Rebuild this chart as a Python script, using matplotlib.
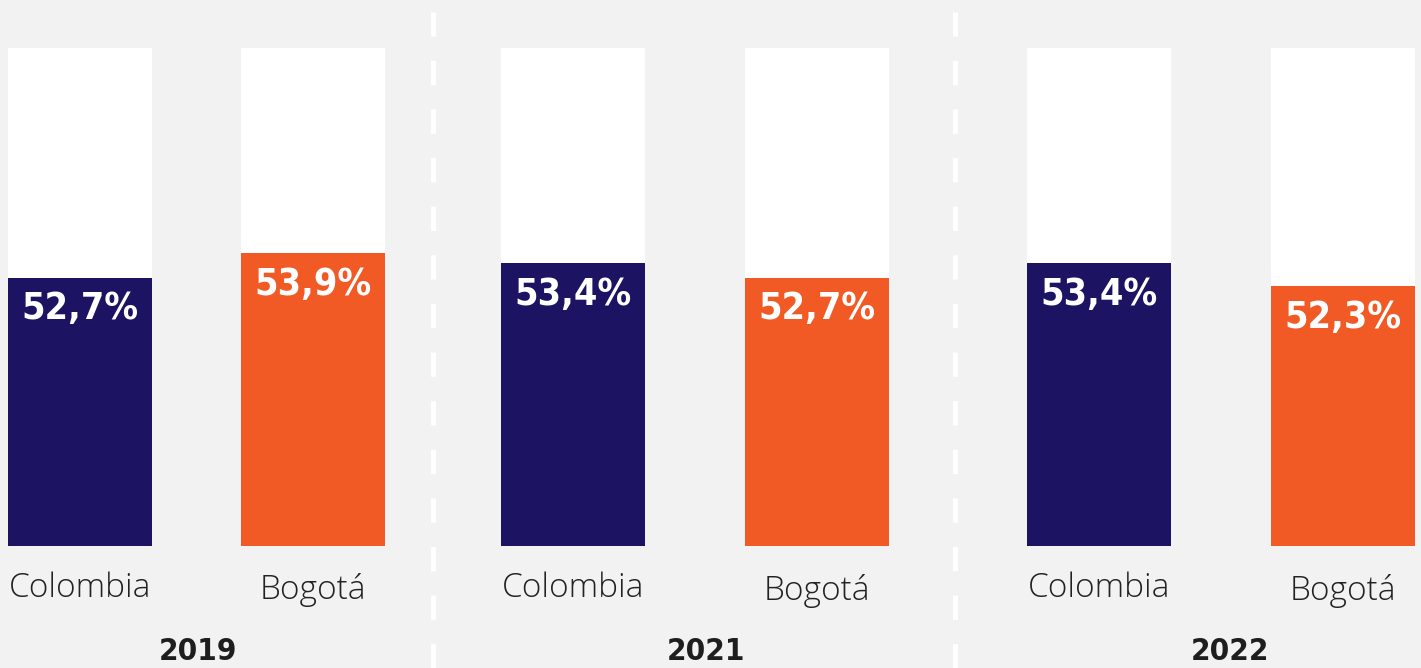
import matplotlib
matplotlib.use("Agg")
import matplotlib.pyplot as plt
from matplotlib.lines import Line2D

years = ["2019", "2021", "2022"]
places = ["Colombia", "Bogotá"]
values = [52.7, 53.9, 53.4, 52.7, 53.4, 52.3]
value_labels = ["52,7%", "53,9%", "53,4%", "52,7%", "53,4%", "52,3%"]

# layout (pixels)
W, H = 1421, 668
bar_x = [80, 313, 573, 817, 1099, 1343]
bar_w = 144
year_x = [198, 706, 1230]
sep_x = [433, 955]
label_y_off = [0, 2, 0, 3, 0, 3]
y_lo, y_hi = 39.6, 63.9
navy = "#1c1462"
orange = "#f15a25"
bg = "#f2f2f2"

fig = plt.figure(figsize=(W / 100, H / 100), dpi=100, facecolor=bg)
ax = fig.add_axes([0, (H - 546) / H, 1, 498 / H])
ax.set_facecolor(bg)
ax.set_xlim(0, W)
ax.set_ylim(y_lo, y_hi)
ax.axis("off")

colors = [navy, orange] * 3
ax.bar(bar_x, [y_hi - y_lo] * 6, bottom=y_lo, width=bar_w, color="white", zorder=1)
ax.bar(bar_x, [v - y_lo for v in values], bottom=y_lo, width=bar_w, color=colors, zorder=2)

for x, v, lab in zip(bar_x, values, value_labels):
    ax.annotate(lab, (x, v), xytext=(0, -23), textcoords="offset points",
                ha="center", va="center", color="white", fontsize=27,
                fontweight="bold", family="DejaVu Sans", fontstretch="condensed", zorder=3)

for i, x in enumerate(bar_x):
    fig.text(x / W, 1 - (588 + label_y_off[i]) / H, places[i % 2], ha="center", va="center",
             fontsize=24, color="#222222", family="Open Sans", fontweight="light")

for x, yr in zip(year_x, years):
    fig.text(x / W, 1 - 652 / H, yr, ha="center", va="center", fontsize=22.5,
             color="#1e1e1e", fontweight="bold", family="DejaVu Sans", fontstretch="condensed")

for sx in sep_x:
    fig.add_artist(Line2D([sx / W, sx / W], [0, 1 - 12 / H], transform=fig.transFigure,
                          color="white", lw=3.5, linestyle=(0, (5, 5))))

fig.savefig("out.png", dpi=100, facecolor=bg)
